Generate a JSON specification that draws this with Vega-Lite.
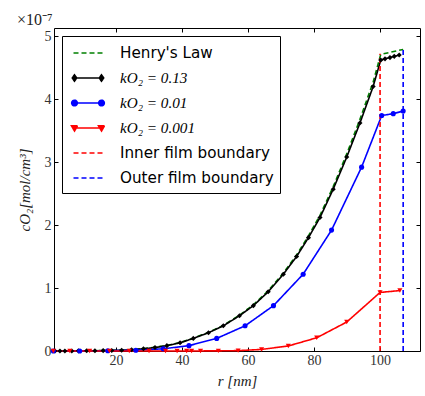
{
  "$schema": "https://vega.github.io/schema/vega-lite/v6.json",
  "width": 366,
  "height": 323,
  "autosize": {"type": "none"},
  "padding": {"left": 54, "top": 28, "right": 5, "bottom": 45},
  "background": "white",
  "title": {"text": "×10⁻⁷", "anchor": "start", "font": "Liberation Serif", "fontSize": 16, "fontWeight": "normal", "offset": 0, "color": "#222"},
  "config": {
    "view": {"stroke": "black", "strokeWidth": 1},
    "axis": {"domain": false, "grid": false, "ticks": true, "tickSize": -4, "tickColor": "black", "tickWidth": 1,
      "labelFont": "Liberation Serif", "labelFontSize": 14, "labelColor": "#333",
      "titleFont": "Liberation Serif", "titleFontSize": 15, "titleFontWeight": "normal", "titleFontStyle": "italic", "titleColor": "#222"},
    "legend": {"orient": "top-left", "offset": 8, "padding": 6, "strokeColor": "black", "fillColor": "white", "cornerRadius": 0,
      "symbolSize": 400, "symbolOffset": 9, "labelOffset": 21, "rowPadding": 5.0, "labelFontSize": 15.2, "labelLimit": 300, "labelFont": "DejaVu Sans", "labelColor": "black", "symbolStrokeWidth": 1.6}
  },
  "data": {"values": [
    {"series": "Henry's Law", "r": 1.5, "c": 0.0},
    {"series": "Henry's Law", "r": 8.6, "c": 0.002},
    {"series": "Henry's Law", "r": 16.1, "c": 0.006},
    {"series": "Henry's Law", "r": 21.7, "c": 0.013},
    {"series": "Henry's Law", "r": 28.3, "c": 0.036},
    {"series": "Henry's Law", "r": 35.4, "c": 0.087},
    {"series": "Henry's Law", "r": 39.4, "c": 0.133},
    {"series": "Henry's Law", "r": 43.4, "c": 0.204},
    {"series": "Henry's Law", "r": 48.0, "c": 0.295},
    {"series": "Henry's Law", "r": 52.5, "c": 0.407},
    {"series": "Henry's Law", "r": 57.4, "c": 0.57},
    {"series": "Henry's Law", "r": 61.6, "c": 0.733},
    {"series": "Henry's Law", "r": 66.1, "c": 0.955},
    {"series": "Henry's Law", "r": 70.7, "c": 1.24},
    {"series": "Henry's Law", "r": 74.7, "c": 1.525},
    {"series": "Henry's Law", "r": 78.3, "c": 1.83},
    {"series": "Henry's Law", "r": 81.8, "c": 2.155},
    {"series": "Henry's Law", "r": 85.8, "c": 2.61},
    {"series": "Henry's Law", "r": 89.9, "c": 3.13},
    {"series": "Henry's Law", "r": 93.9, "c": 3.68},
    {"series": "Henry's Law", "r": 97.9, "c": 4.27},
    {"series": "Henry's Law", "r": 100.2, "c": 4.71},
    {"series": "Henry's Law", "r": 107.0, "c": 4.79},

    {"series": "kO₂ = 0.13", "r": 1.5, "c": 0.0},
    {"series": "kO₂ = 0.13", "r": 3.0, "c": 0.0},
    {"series": "kO₂ = 0.13", "r": 4.5, "c": 0.001},
    {"series": "kO₂ = 0.13", "r": 6.6, "c": 0.001},
    {"series": "kO₂ = 0.13", "r": 8.6, "c": 0.002},
    {"series": "kO₂ = 0.13", "r": 11.1, "c": 0.003},
    {"series": "kO₂ = 0.13", "r": 13.6, "c": 0.004},
    {"series": "kO₂ = 0.13", "r": 16.1, "c": 0.006},
    {"series": "kO₂ = 0.13", "r": 18.7, "c": 0.009},
    {"series": "kO₂ = 0.13", "r": 21.7, "c": 0.013},
    {"series": "kO₂ = 0.13", "r": 24.7, "c": 0.02},
    {"series": "kO₂ = 0.13", "r": 28.3, "c": 0.035},
    {"series": "kO₂ = 0.13", "r": 31.8, "c": 0.055},
    {"series": "kO₂ = 0.13", "r": 35.4, "c": 0.085},
    {"series": "kO₂ = 0.13", "r": 39.4, "c": 0.13},
    {"series": "kO₂ = 0.13", "r": 43.4, "c": 0.2},
    {"series": "kO₂ = 0.13", "r": 48.0, "c": 0.29},
    {"series": "kO₂ = 0.13", "r": 52.5, "c": 0.4},
    {"series": "kO₂ = 0.13", "r": 57.4, "c": 0.56},
    {"series": "kO₂ = 0.13", "r": 61.6, "c": 0.72},
    {"series": "kO₂ = 0.13", "r": 66.1, "c": 0.94},
    {"series": "kO₂ = 0.13", "r": 70.7, "c": 1.22},
    {"series": "kO₂ = 0.13", "r": 74.7, "c": 1.5},
    {"series": "kO₂ = 0.13", "r": 78.3, "c": 1.8},
    {"series": "kO₂ = 0.13", "r": 81.8, "c": 2.12},
    {"series": "kO₂ = 0.13", "r": 85.8, "c": 2.57},
    {"series": "kO₂ = 0.13", "r": 89.9, "c": 3.08},
    {"series": "kO₂ = 0.13", "r": 93.9, "c": 3.62},
    {"series": "kO₂ = 0.13", "r": 97.9, "c": 4.2},
    {"series": "kO₂ = 0.13", "r": 100.2, "c": 4.62},
    {"series": "kO₂ = 0.13", "r": 101.5, "c": 4.64},
    {"series": "kO₂ = 0.13", "r": 103.0, "c": 4.66},
    {"series": "kO₂ = 0.13", "r": 104.3, "c": 4.68},
    {"series": "kO₂ = 0.13", "r": 105.8, "c": 4.7},

    {"series": "kO₂ = 0.01", "r": 1.0, "c": 0.0},
    {"series": "kO₂ = 0.01", "r": 9.0, "c": 0.001},
    {"series": "kO₂ = 0.01", "r": 17.5, "c": 0.004},
    {"series": "kO₂ = 0.01", "r": 26.0, "c": 0.012},
    {"series": "kO₂ = 0.01", "r": 34.3, "c": 0.035},
    {"series": "kO₂ = 0.01", "r": 42.1, "c": 0.085},
    {"series": "kO₂ = 0.01", "r": 50.5, "c": 0.2},
    {"series": "kO₂ = 0.01", "r": 59.1, "c": 0.4},
    {"series": "kO₂ = 0.01", "r": 67.7, "c": 0.72},
    {"series": "kO₂ = 0.01", "r": 76.7, "c": 1.22},
    {"series": "kO₂ = 0.01", "r": 85.3, "c": 1.92},
    {"series": "kO₂ = 0.01", "r": 94.4, "c": 2.92},
    {"series": "kO₂ = 0.01", "r": 100.5, "c": 3.74},
    {"series": "kO₂ = 0.01", "r": 104.0, "c": 3.77},
    {"series": "kO₂ = 0.01", "r": 107.0, "c": 3.81},

    {"series": "kO₂ = 0.001", "r": 1.0, "c": 0.0},
    {"series": "kO₂ = 0.001", "r": 6.0, "c": 0.0},
    {"series": "kO₂ = 0.001", "r": 12.0, "c": 0.0},
    {"series": "kO₂ = 0.001", "r": 18.0, "c": 0.0},
    {"series": "kO₂ = 0.001", "r": 24.0, "c": 0.0},
    {"series": "kO₂ = 0.001", "r": 30.0, "c": 0.0},
    {"series": "kO₂ = 0.001", "r": 35.0, "c": 0.0},
    {"series": "kO₂ = 0.001", "r": 38.5, "c": 0.0},
    {"series": "kO₂ = 0.001", "r": 41.4, "c": 0.0},
    {"series": "kO₂ = 0.001", "r": 42.9, "c": 0.0},
    {"series": "kO₂ = 0.001", "r": 45.6, "c": 0.001},
    {"series": "kO₂ = 0.001", "r": 51.0, "c": 0.002},
    {"series": "kO₂ = 0.001", "r": 57.0, "c": 0.006},
    {"series": "kO₂ = 0.001", "r": 64.1, "c": 0.025},
    {"series": "kO₂ = 0.001", "r": 72.2, "c": 0.08},
    {"series": "kO₂ = 0.001", "r": 80.8, "c": 0.21},
    {"series": "kO₂ = 0.001", "r": 89.9, "c": 0.46},
    {"series": "kO₂ = 0.001", "r": 100.0, "c": 0.93},
    {"series": "kO₂ = 0.001", "r": 106.0, "c": 0.96},

    {"series": "Inner film boundary", "r": 100.0, "c": 0.0},
    {"series": "Inner film boundary", "r": 100.0, "c": 4.72},
    {"series": "Outer film boundary", "r": 107.0, "c": 0.0},
    {"series": "Outer film boundary", "r": 107.0, "c": 4.8}
  ]},
  "layer": [
    {
      "mark": {"type": "line", "strokeWidth": 1.6},
      "encoding": {
        "x": {"field": "r", "type": "quantitative", "scale": {"domain": [1.2, 112.1], "nice": false, "zero": false},
          "axis": {"orient": "bottom", "title": "r [nm]", "values": [20, 40, 60, 80, 100], "labelPadding": 6, "titlePadding": 6}},
        "y": {"field": "c", "type": "quantitative", "scale": {"domain": [0, 5.13], "nice": false},
          "axis": {"orient": "left", "title": "cO₂[mol/cm³]", "values": [0, 1, 2, 3, 4, 5], "labelPadding": 7, "titlePadding": 12}},
        "color": {"field": "series", "type": "nominal",
          "scale": {"domain": ["Henry's Law", "kO₂ = 0.13", "kO₂ = 0.01", "kO₂ = 0.001", "Inner film boundary", "Outer film boundary"],
            "range": ["#008000", "#000000", "#0000ff", "#ff0000", "#ff0000", "#0000ff"]},
          "legend": {"title": null,
            "encode": {
              "labels": {"update": {
                "font": {"signal": "indexof(datum.label,'=') >= 0 ? 'Liberation Serif' : 'DejaVu Sans'"},
                "fontStyle": {"signal": "indexof(datum.label,'=') >= 0 ? 'italic' : 'normal'"}}},
              "symbols": {"update": {
                "shape": {"signal": "datum.value == 'kO₂ = 0.13' ? 'M-1.45,0H1.45M-1.35,-0.32L-1.13,0L-1.35,0.32L-1.57,0ZM1.35,-0.32L1.57,0L1.35,0.32L1.13,0Z' : datum.value == 'kO₂ = 0.01' ? 'M-1.45,0H1.45M-1.63,0A0.28,0.28 0 1,0 -1.07,0A0.28,0.28 0 1,0 -1.63,0ZM1.07,0A0.28,0.28 0 1,0 1.63,0A0.28,0.28 0 1,0 1.07,0Z' : datum.value == 'kO₂ = 0.001' ? 'M-1.45,0H1.45M-1.65,-0.22L-1.05,-0.22L-1.35,0.3ZM1.05,-0.22L1.65,-0.22L1.35,0.3Z' : 'M-1.45,0H1.45'"},
                "strokeDash": {"signal": "indexof(datum.value,'=') >= 0 ? [1,0] : [5,3]"},
                "fill": {"scale": "color", "field": "value"},
                "stroke": {"scale": "color", "field": "value"},
                "strokeWidth": {"value": 1.6},
                "opacity": {"value": 1}}}}}},
        "strokeDash": {"field": "series", "type": "nominal",
          "scale": {"domain": ["Henry's Law", "kO₂ = 0.13", "kO₂ = 0.01", "kO₂ = 0.001", "Inner film boundary", "Outer film boundary"],
            "range": [[5, 3], [1, 0], [1, 0], [1, 0], [5, 3], [5, 3]]},
          "legend": null}
      }
    },
    {
      "transform": [{"filter": "indexof(datum.series,'k') == 0"}],
      "mark": {"type": "point", "filled": true, "opacity": 1, "size": 26},
      "encoding": {
        "x": {"field": "r", "type": "quantitative",
          "axis": {"orient": "top", "title": null, "labels": false, "values": [20, 40, 60, 80, 100]}},
        "y": {"field": "c", "type": "quantitative",
          "axis": {"orient": "right", "title": null, "labels": false, "values": [0, 1, 2, 3, 4, 5]}},
        "color": {"field": "series", "type": "nominal", "legend": {"title": null}},
        "shape": {"field": "series", "type": "nominal",
          "scale": {"domain": ["kO₂ = 0.13", "kO₂ = 0.01", "kO₂ = 0.001"], "range": ["diamond", "circle", "triangle-down"]},
          "legend": null}
      }
    }
  ],
  "resolve": {"axis": {"x": "independent", "y": "independent"}}
}
